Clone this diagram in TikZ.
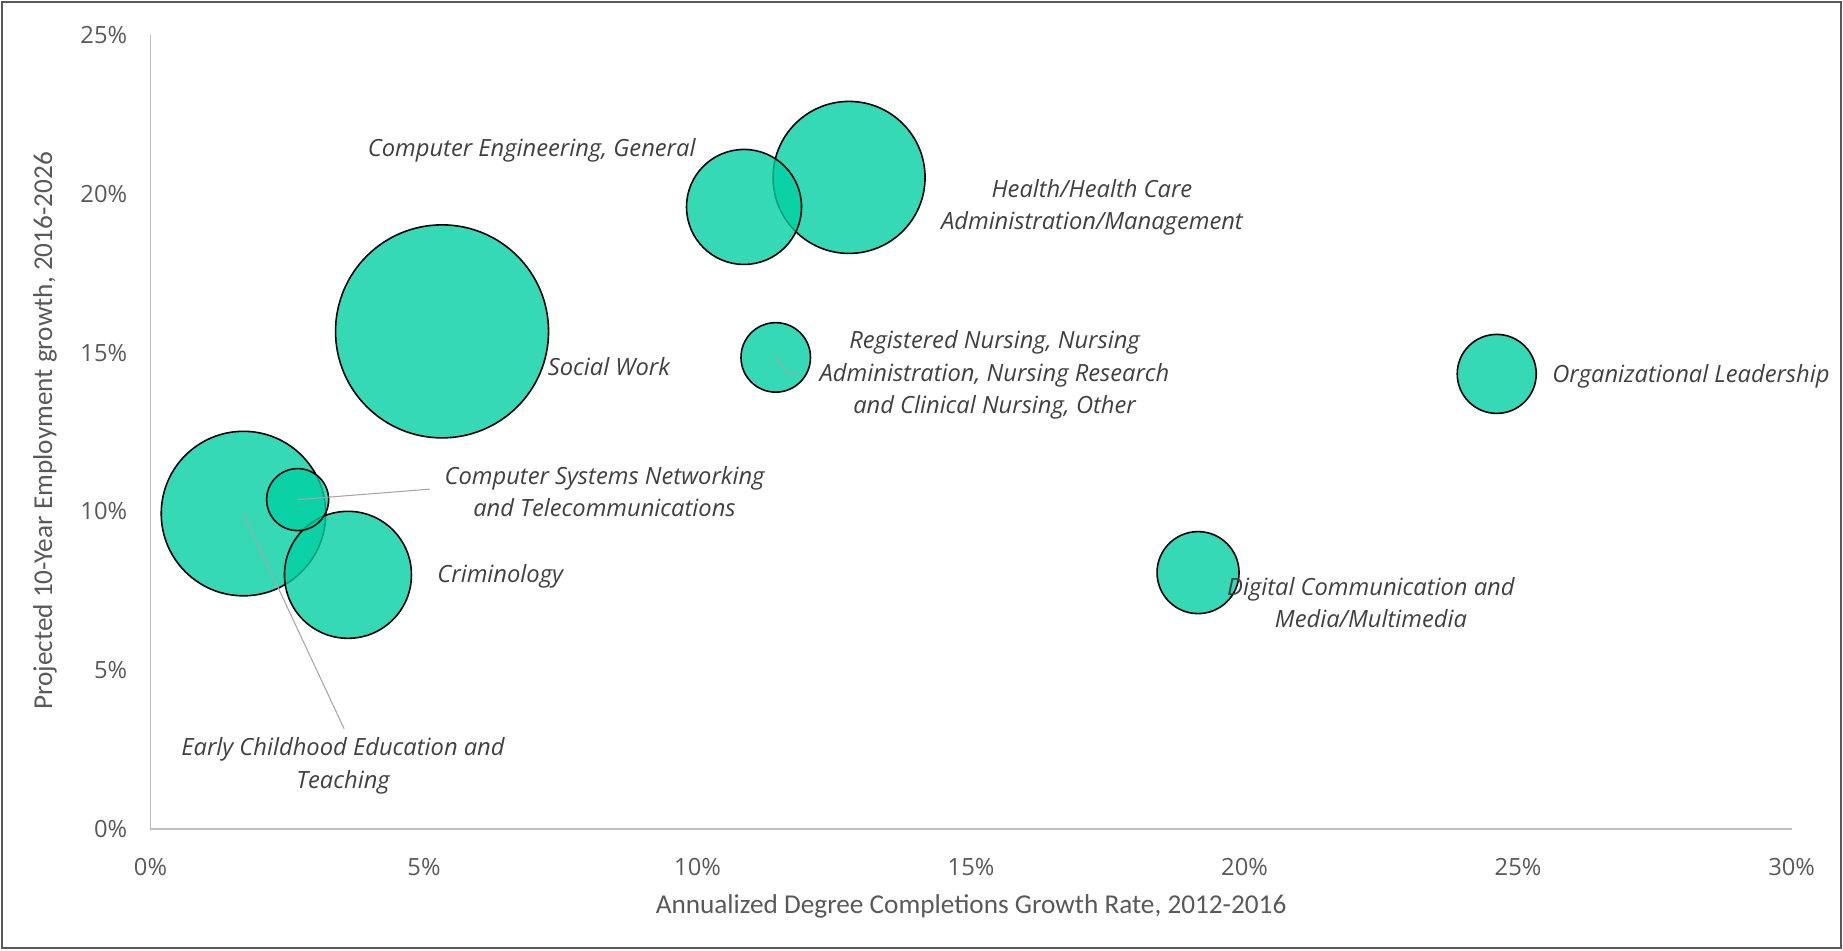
\documentclass[tikz,border=0pt]{standalone}
\usepackage{fontspec}
\setmainfont{Open Sans}
\newfontfamily\titlefont{Carlito}
\usepackage{tikz}
\usetikzlibrary{positioning}

\definecolor{bubblegreen}{RGB}{0,207,162}
\definecolor{labelgray}{RGB}{64,64,64}
\definecolor{tickgray}{RGB}{89,89,89}
\definecolor{axisgray}{RGB}{191,191,191}
\definecolor{leadgray}{RGB}{166,166,166}

\begin{document}
\begin{tikzpicture}[x=1.094cm, y=0.6348cm,
    bubble/.style={circle, draw=black, line width=0.9pt, fill=bubblegreen, fill opacity=0.79, inner sep=0pt},
    bubblelabel/.style={text=labelgray, font=\fontsize{13.5}{18.4}\selectfont\itshape, align=center, inner sep=0pt},
    ticklabel/.style={text=tickgray, font=\fontsize{13.5}{16}\selectfont, inner sep=0pt},
    axistitle/.style={text=tickgray, font=\titlefont\fontsize{15.5}{18}\selectfont, inner sep=0pt},
    leader/.style={leadgray, line width=0.6pt}]
    \useasboundingbox (-2.751,-3.822) rectangle (30.94,26.11);

    % frame round the chart
    \draw[black!65, line width=1.2pt] (-2.715,-3.759) rectangle (30.905,26.046);

    % axes
    \draw[axisgray, line width=0.85pt] (0,25) -- (0,0) -- (30,0);
    \foreach \y in {0,5,...,25} {
        \node[ticklabel, anchor=east] (yt\y) at (-0.42,\y) {\y\%};
    }
    \foreach \x in {0,5,...,30} {
        \node[ticklabel] (xt\x) at (\x,-1.22) {\x\%};
    }
    \node[axistitle] (xtitle) at (15,-2.44) {Annualized Degree Completions Growth Rate, 2012-2016};
    \node[axistitle, rotate=90] (ytitle) at (-1.93,12.53) {Projected 10-Year Employment growth, 2016-2026};

    % bubbles (x = completions growth, y = employment growth)
    \node[bubble, minimum size=4.26cm] (socwork) at (5.33,15.67) {};
    \node[bubble, minimum size=3.04cm] (health) at (12.77,20.52) {};
    \node[bubble, minimum size=2.30cm] (compeng) at (10.85,19.59) {};
    \node[bubble, minimum size=1.39cm] (nursing) at (11.43,14.85) {};
    \node[bubble, minimum size=1.58cm] (orglead) at (24.61,14.33) {};
    \node[bubble, minimum size=1.64cm] (digicomm) at (19.15,8.07) {};
    \node[bubble, minimum size=3.29cm] (earlychild) at (1.70,9.93) {};
    \node[bubble, minimum size=2.54cm] (crimin) at (3.61,8.00) {};
    \node[bubble, minimum size=1.24cm] (compsys) at (2.69,10.37) {};

    % labels
    \node[bubblelabel, anchor=east] (compenglbl) at (9.97,21.37) {Computer Engineering, General};
    \node[bubblelabel] (healthlbl) at (17.21,19.57) {Health/Health Care\\Administration/Management};
    \node[bubblelabel] (socworklbl) at (8.38,14.56) {Social Work};
    \node[bubblelabel] (nursinglbl) at (15.43,14.30) {Registered Nursing, Nursing\\Administration, Nursing Research\\and Clinical Nursing, Other};
    \node[bubblelabel, anchor=west] (orgleadlbl) at (25.62,14.26) {Organizational Leadership};
    \node[bubblelabel] (compsyslbl) at (8.30,10.63) {Computer Systems Networking\\and Telecommunications};
    \node[bubblelabel, anchor=west] (criminlbl) at (5.24,7.96) {Criminology};
    \node[bubblelabel] (digicommlbl) at (22.31,7.13) {Digital Communication and\\Media/Multimedia};
    \node[bubblelabel] (earlychildlbl) at (3.52,1.98) {Early Childhood Education and\\Teaching};

    % leader lines
    \coordinate (compsysend) at (5.11,10.70);
    \coordinate (earlychildend) at (3.54,3.15);
    \coordinate (nursingbend) at (11.66,14.33);
    \coordinate (nursingend) at (11.86,14.33);
    \draw[leader] (compsys.center) -- (compsysend);
    \draw[leader] (earlychild.center) -- (earlychildend);
    \draw[leader] (nursing.center) -- (nursingbend) -- (nursingend);
\end{tikzpicture}
\end{document}
